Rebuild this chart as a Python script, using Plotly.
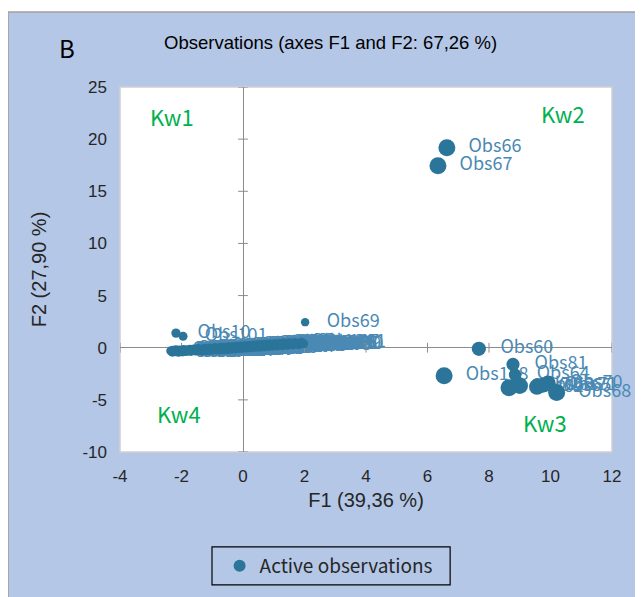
import plotly.graph_objects as go

# ---------------- data ----------------
cluster_x = [-2.35, -2.30, -2.27, -2.22, -2.18, -2.15, -2.10, -2.06, -2.02, -1.97,
             -1.93, -1.90, -1.85, -1.81, -1.76, -1.72, -1.69, -1.64, -1.60, -1.55,
             -1.51, -1.47, -1.42, -1.38, -1.35, -1.30, -1.26, -1.21, -1.17, -1.12,
             -1.08, -1.04, -0.99, -0.95, -0.91, -0.86, -0.82, -0.78, -0.73, -0.69,
             -0.64, -0.60, -0.56, -0.51, -0.47, -0.43, -0.38, -0.34, -0.29, -0.25,
             -0.21, -0.16, -0.12, -0.08, -0.03, 0.01, 0.06, 0.10, 0.14, 0.19,
             0.23, 0.28, 0.32, 0.37, 0.41, 0.45, 0.50, 0.55, 0.59, 0.64,
             0.68, 0.73, 0.78, 0.82, 0.87, 0.92, 0.97, 1.02, 1.07, 1.12,
             1.17, 1.22, 1.28, 1.33, 1.38, 1.44, 1.50, 1.56, 1.62, 1.68,
             1.75, 1.82, 1.90, 1.97]
cluster_y = [-0.30, -0.42, -0.25, -0.38, -0.20, -0.36, -0.44, -0.22, -0.33, -0.40,
             -0.18, -0.30, -0.37, -0.21, -0.32, -0.15, -0.35, -0.26, -0.12, -0.31,
             -0.22, -0.08, -0.29, -0.19, -0.33, -0.10, -0.24, -0.05, -0.27, -0.16,
             -0.02, -0.25, -0.13, -0.20, 0.01, -0.18, -0.09, -0.22, 0.03, -0.12,
             -0.19, 0.05, -0.08, -0.17, 0.08, -0.06, -0.14, 0.10, -0.03, -0.11,
             0.14, 0.00, -0.08, 0.17, 0.04, -0.05, 0.19, 0.06, -0.02, 0.22,
             0.09, 0.01, 0.25, 0.11, 0.04, 0.27, 0.13, 0.06, 0.30, 0.16,
             0.09, 0.33, 0.19, 0.12, 0.36, 0.21, 0.15, 0.38, 0.24, 0.18,
             0.41, 0.26, 0.20, 0.44, 0.29, 0.23, 0.47, 0.32, 0.27, 0.50,
             0.35, 0.30, 0.52, 0.38]
cluster_names = ["Obs%d" % n for n in
                 [1, 2, 3, 5, 6, 7, 8, 9, 11, 12, 13, 14, 15, 16, 17, 18, 19, 20, 21, 22,
                  23, 24, 25, 26, 27, 28, 29, 30, 31, 32, 33, 34, 35, 36, 37, 38, 39, 40,
                  41, 42, 43, 44, 45, 46, 47, 48, 49, 50, 51, 52, 53, 54, 55, 56, 57, 58,
                  59, 73, 74, 75, 76, 77, 78, 79, 80, 82, 83, 84, 85, 86, 87, 88, 89, 90,
                  91, 92, 93, 94, 95, 96, 97, 98, 99, 100, 102, 103, 104, 105, 106, 107,
                  109, 110, 111, 61]]

other_names = ["Obs10", "Obs101", "Obs69",
               "Obs66", "Obs67", "Obs60", "Obs81", "Obs64", "Obs108",
               "Obs62", "Obs63", "Obs65", "Obs71", "Obs70", "Obs68"]
other_x = [-2.18, -1.95, 2.02,
           6.63, 6.34, 7.67, 8.78, 8.85, 6.54,
           8.65, 9.00, 9.56, 9.75, 9.92, 10.20]
other_y = [1.40, 1.10, 2.45,
           19.18, 17.45, -0.10, -1.60, -2.60, -2.68,
           -3.85, -3.65, -3.75, -3.60, -3.40, -4.30]
# relative weight of each observation (drives bubble size)
cluster_weight = [0.28] * len(cluster_x)
other_weight = [0.3, 0.27, 0.22,
                1.0, 1.0, 0.75, 0.65, 0.6, 1.0,
                1.0, 0.95, 0.9, 0.8, 0.85, 1.0]

x_ticks = [-4, -2, 0, 2, 4, 6, 8, 10, 12]
y_ticks = [-10, -5, 0, 5, 10, 15, 20, 25]

quadrants = ["Kw1", "Kw2", "Kw3", "Kw4"]
quad_x = [-2.31, 10.41, 9.82, -2.08]
quad_y = [22.24, 22.53, -7.09, -6.23]

# ---------------- figure ----------------
all_x = cluster_x + other_x
all_y = cluster_y + other_y
all_names = cluster_names + other_names
all_size = [6 + 11 * w for w in cluster_weight + other_weight]

MARK = "#2a7599"
LABEL = "#4a89b3"
BG = "#b4c7e7"
LAB_FONT = "Noto Sans CJK SC"

fig = go.Figure()

# labels (drawn below markers)
fig.add_trace(go.Scatter(
    x=all_x, y=all_y, text=all_names, mode="markers+text",
    textposition="middle right", cliponaxis=False,
    marker=dict(size=33, color="rgba(0,0,0,0)"),
    textfont=dict(family=LAB_FONT, size=18, color=LABEL),
    showlegend=False, hoverinfo="skip"))

# zero-line tick marks
fig.add_trace(go.Scatter(
    x=[0] * len(y_ticks), y=y_ticks, mode="markers",
    marker=dict(symbol="line-ew", size=7, line=dict(color="#8c8c8c", width=1)),
    showlegend=False, hoverinfo="skip"))
fig.add_trace(go.Scatter(
    x=x_ticks, y=[0] * len(x_ticks), mode="markers",
    marker=dict(symbol="line-ns", size=7, line=dict(color="#8c8c8c", width=1)),
    showlegend=False, hoverinfo="skip"))

# observations
fig.add_trace(go.Scatter(
    x=all_x, y=all_y, mode="markers",
    marker=dict(size=all_size, color=MARK, opacity=1, line=dict(width=0)),
    showlegend=False, name="Active observations"))

# legend entry
fig.add_trace(go.Scatter(
    x=[None], y=[None], mode="markers", name="Active observations",
    marker=dict(size=12, color=MARK, opacity=1), showlegend=True))

for t, qx, qy in zip(quadrants, quad_x, quad_y):
    fig.add_annotation(x=qx, y=qy, text=t, showarrow=False,
                       font=dict(family=LAB_FONT, size=22, color="#00b050"))

fig.add_annotation(xref="paper", yref="paper", x=0.427, y=1.121,
                   xanchor="center", yanchor="middle",
                   text="Observations (axes F1 and F2: 67,26 %)", showarrow=False,
                   font=dict(family="Liberation Sans", size=18.5, color="#000000"))
fig.add_annotation(xref="paper", yref="paper", x=-0.108, y=1.107,
                   xanchor="center", yanchor="middle",
                   text="B", showarrow=False,
                   font=dict(family=LAB_FONT, size=24, color="#000000"))

shapes = [
    dict(type="rect", xref="paper", yref="paper", x0=-0.2276, x1=1.1, y0=-0.43, y1=1.2055,
         fillcolor=BG, line=dict(color="#a0a0a0", width=1.5), layer="below"),
    dict(type="rect", xref="paper", yref="paper", x0=0, x1=1, y0=0, y1=1,
         fillcolor="white", line=dict(color="#d0d0d0", width=1.5), layer="below"),
    dict(type="rect", xref="paper", yref="paper", x0=0.187, x1=0.671, y0=-0.364, y1=-0.260,
         fillcolor="rgba(0,0,0,0)", line=dict(color="#000000", width=1.2), layer="above"),
]

fig.update_layout(
    width=643, height=597,
    margin=dict(l=112, r=39, t=79, b=153),
    paper_bgcolor="white", plot_bgcolor="rgba(0,0,0,0)",
    shapes=shapes,
    font=dict(family="Liberation Sans", size=17, color="#262626"),
    legend=dict(x=0.425, y=-0.312, xanchor="center", yanchor="middle",
                bgcolor="rgba(0,0,0,0)", borderwidth=0,
                font=dict(family=LAB_FONT, size=19, color="#262626"),
                itemwidth=30),
    xaxis=dict(range=[-4, 12], tickvals=x_ticks, ticktext=[str(v) for v in x_ticks],
               showgrid=False,
               zeroline=True, zerolinecolor="#8c8c8c", zerolinewidth=1,
               showline=False, ticks="", ticklabelstandoff=12,
               title=dict(text="F1 (39,36 %)", standoff=7,
                          font=dict(family="Liberation Sans", size=20, color="#262626"))),
    yaxis=dict(range=[-10, 25], tickvals=y_ticks, ticktext=[str(v) for v in y_ticks],
               showgrid=False,
               zeroline=True, zerolinecolor="#8c8c8c", zerolinewidth=1,
               showline=False, ticks="", ticklabelstandoff=12,
               title=dict(text="F2 (27,90 %)", standoff=30,
                          font=dict(family="Liberation Sans", size=20, color="#262626"))),
)

fig.write_html("out.html")
